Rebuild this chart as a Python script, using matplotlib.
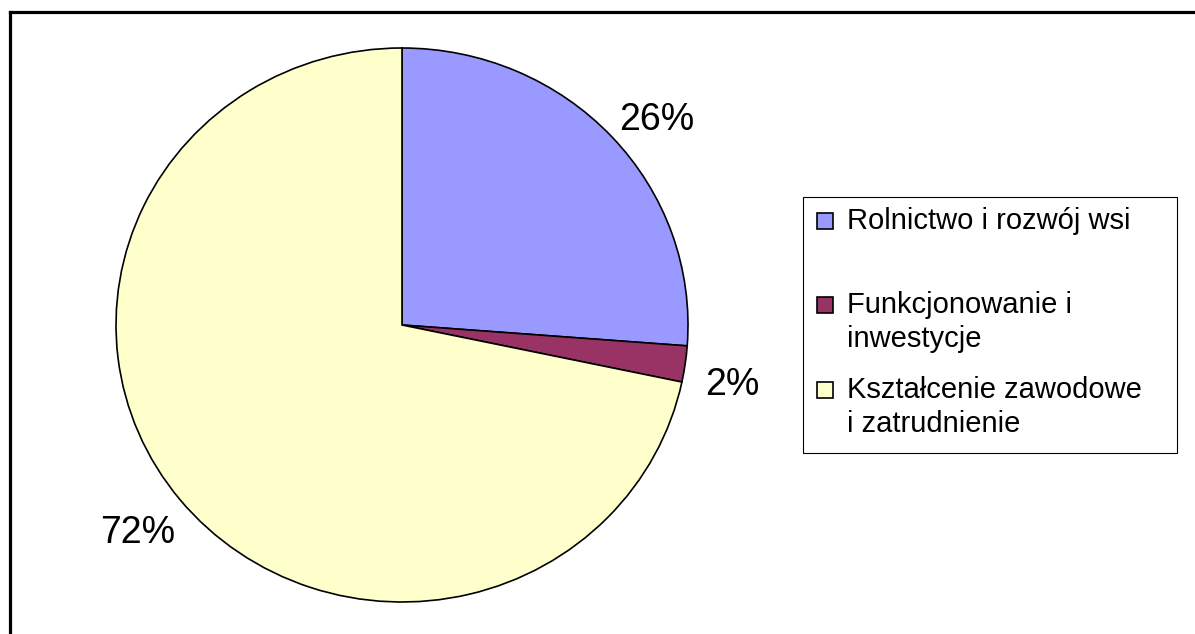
import matplotlib
matplotlib.use("Agg")
import matplotlib.pyplot as plt
import numpy as np
from matplotlib.patches import Rectangle
from matplotlib.lines import Line2D

plt.rcParams["font.family"] = ["Liberation Sans", "DejaVu Sans"]

# data
categories = ["Rolnictwo i rozwój wsi", "Funkcjonowanie i\ninwestycje",
              "Kształcenie zawodowe\ni zatrudnienie"]
shares = [26.2, 2.1, 71.7]
pct_labels = ["26%", "2%", "72%"]
colors = ["#9999FF", "#993366", "#FFFFCC"]

W, H = 1195, 634


def fx(px):
    return px / W


def fy(py):
    return 1 - py / H


fig = plt.figure(figsize=(W / 100, H / 100), dpi=100)

# outer frame (only top and left edges are visible in the picture)
fig.add_artist(Line2D([fx(10), fx(10)], [fy(12), -0.1], color="black", lw=2.3,
                      transform=fig.transFigure))
fig.add_artist(Line2D([fx(10), 1.1], [fy(12), fy(12)], color="black", lw=2.3,
                      transform=fig.transFigure))

# the pie is slightly squashed vertically in the picture
cx, cy, rx, ry = 402, 325, 286, 277
ax = fig.add_axes([fx(cx - rx), fy(cy + ry), 2 * rx / W, 2 * ry / H])
wedges, _ = ax.pie(shares, colors=colors, startangle=90, counterclock=False,
                   radius=1, wedgeprops=dict(edgecolor="black", linewidth=1.2))
ax.set_xlim(-1, 1)
ax.set_ylim(-1, 1)
ax.set_aspect("auto")
ax.axis("off")

# percentage labels, anchored just outside each wedge
label_r = [1.035, 1.07, 1.19]
label_ha = ["left", "left", "center"]
label_va = ["baseline", "top", "center"]
for w, lab, rr, ha, va in zip(wedges, pct_labels, label_r, label_ha, label_va):
    ang = np.deg2rad((w.theta1 + w.theta2) / 2)
    ax.text(rr * np.cos(ang), rr * np.sin(ang), lab, ha=ha, va=va,
            fontsize=27, clip_on=False)

# legend box
fig.add_artist(Rectangle((fx(803), fy(453)), fx(1177 - 803), (453 - 197) / H,
                         facecolor="white", edgecolor="black", lw=0.8,
                         transform=fig.transFigure))
entry_base = [229, 313, 398]
line_step = 34
for lab, col, yb in zip(categories, colors, entry_base):
    fig.add_artist(Rectangle((fx(817), fy(yb)), fx(16), 16 / H,
                             facecolor=col, edgecolor="black", lw=1.2,
                             transform=fig.transFigure))
    for i, line in enumerate(lab.split("\n")):
        fig.text(fx(847), fy(yb + i * line_step), line, ha="left",
                 va="baseline", fontsize=21)

fig.savefig("out.png", dpi=100, facecolor="white")
